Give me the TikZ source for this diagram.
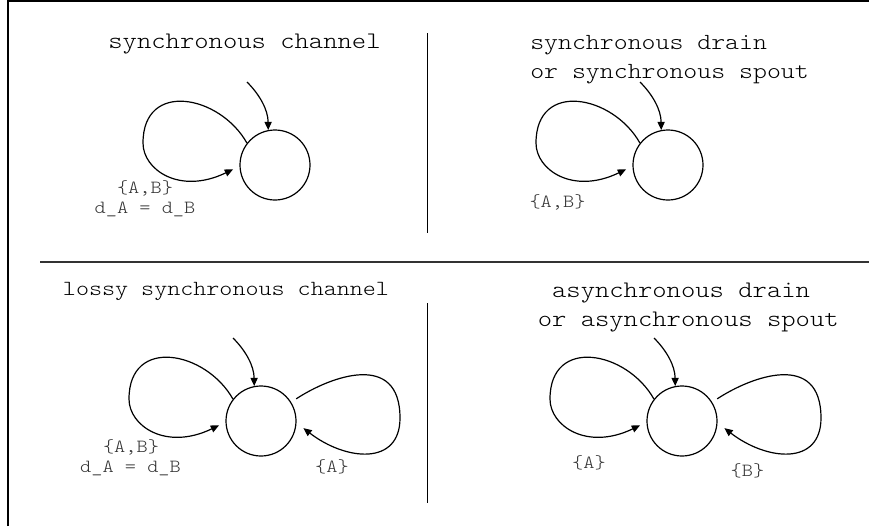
\documentclass[tikz,border=0pt]{standalone}
\usepackage{fontspec}
\newfontfamily\monofont{lmmonolt10-regular.otf}[FakeStretch=1.15]
\usetikzlibrary{arrows.meta,calc}
\newcommand\initarrow[1]{%
  \coordinate (#1i) at ($(#1)+(-28,-83)$);
  \draw[edge] (#1i) .. controls ($(#1)+(-15,-70)$) and ($(#1)+(-7,-55)$) .. (#1.101);}
\newcommand\leftloop[1]{%
  \draw[edge,shorten >=5.3pt] (#1.142) .. controls ($(#1)+(-55,-70)$) and ($(#1)+(-132,-85)$) .. ($(#1)+(-132,-22)$)
     .. controls ($(#1)+(-132,5)$) and ($(#1)+(-95,30)$) .. (#1.182);}
\newcommand\rightloop[1]{%
  \draw[edge,shorten <=4.5pt,shorten >=6.5pt] (#1.32) .. controls ($(#1)+(70,-45)$) and ($(#1)+(139,-70)$) .. ($(#1)+(139,-3)$)
     .. controls ($(#1)+(139,45)$) and ($(#1)+(85,40)$) .. (#1.357);}
\begin{document}
\begin{tikzpicture}[x=0.75pt,y=-0.75pt,
  state/.style={draw,circle,minimum size=52.5pt,inner sep=0pt,line width=0.9pt},
  edge/.style={line width=0.9pt,-{Triangle[length=6.2pt,width=5.4pt]}},
  title/.style={inner sep=0pt,font=\monofont\fontsize{17.8pt}{21.75pt}\selectfont,text=black},
  lbl/.style={inner sep=0pt,font=\monofont\fontsize{13.9pt}{15pt}\selectfont,text=black!80},
  frame/.style={line width=1.5pt},
  sep/.style={line width=1pt}]
\useasboundingbox (0,0) rectangle (869,526);
% frame and separators
\draw[frame] (8,526) -- (8,1) -- (869,1);
\draw[frame,black!80] (40,262) -- (869,262);
\draw[sep] (427.5,33) -- (427.5,233);
\draw[sep] (427.5,303) -- (427.5,503);
% titles
\node[title,anchor=base] (t1) at (244.5,48.5) {synchronous channel};
\node[title,font=\monofont\fontsize{17.3pt}{21.75pt}\selectfont,align=left,anchor=base west] (t2) at (530,78) {synchronous drain\\or synchronous spout};
\node[title,font=\monofont\fontsize{16.2pt}{20pt}\selectfont,anchor=base] (t3) at (226,295) {lossy synchronous channel};
\node[title,align=left,anchor=base west] (t4) at (537.5,326) {\hphantom{a}asynchronous drain\\or asynchronous spout};
% states
\node[state] (c1) at (275,165) {};
\node[state] (c2) at (668,165) {};
\node[state] (c3) at (261,421) {};
\node[state] (c4) at (682,421) {};
\initarrow{c1} \initarrow{c2} \initarrow{c3} \initarrow{c4}
\leftloop{c1} \leftloop{c2} \leftloop{c3} \leftloop{c4}
\rightloop{c3} \rightloop{c4}
% labels
\node[lbl,anchor=base] (l1a) at (145,193) {\{A,B\}};
\node[lbl,anchor=base] (l1b) at (145,213) {d\_A = d\_B};
\node[lbl,anchor=base] (l2a) at (557.5,207) {\{A,B\}};
\node[lbl,anchor=base] (l3a) at (131,452) {\{A,B\}};
\node[lbl,anchor=base] (l3b) at (130.5,472) {d\_A = d\_B};
\node[lbl,anchor=base] (l3c) at (332,472) {\{A\}};
\node[lbl,anchor=base] (l4a) at (589,468) {\{A\}};
\node[lbl,anchor=base] (l4b) at (747.5,476) {\{B\}};
\end{tikzpicture}
\end{document}
